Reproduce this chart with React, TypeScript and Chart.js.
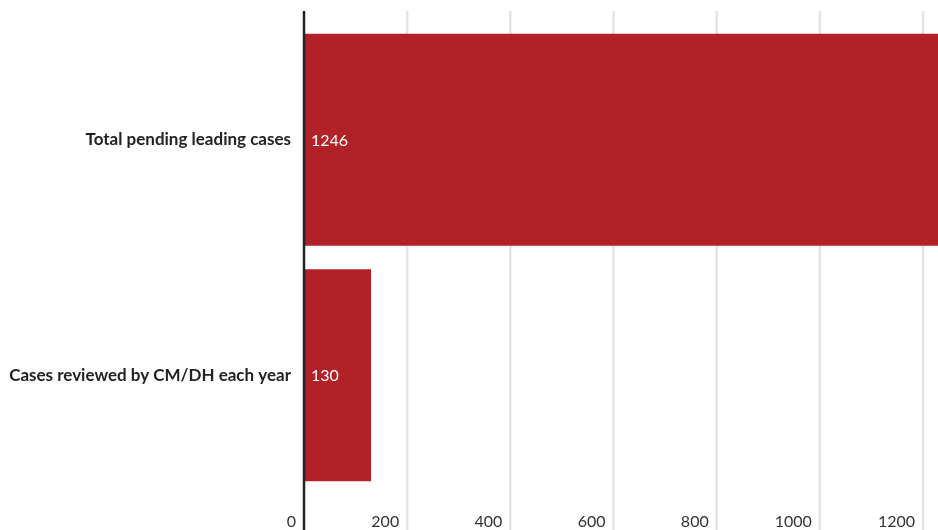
import React, { useEffect, useRef } from "react";
import { Chart, registerables } from "chart.js";

Chart.register(...registerables);

const categories = ["Total pending leading cases", "Cases reviewed by CM/DH each year"];
const values = [1246, 130];
const tickValues = [0, 200, 400, 600, 800, 1000, 1200];
const barColor = "#b22028";

const FONT = "Lato, 'Open Sans', sans-serif";

export default function App() {
  const ref = useRef<HTMLCanvasElement | null>(null);

  useEffect(() => {
    document.body.style.margin = "0";
    const canvas = ref.current;
    if (!canvas) return;

    const overlay = {
      id: "overlay",
      beforeDatasetsDraw(chart: any) {
        const ctx = chart.ctx;
        const xs = chart.scales.x;
        ctx.save();
        ctx.strokeStyle = "#e4e4e4";
        ctx.lineWidth = 2.5;
        tickValues.forEach((v) => {
          if (v === 0) return;
          const px = xs.getPixelForValue(v);
          ctx.beginPath();
          ctx.moveTo(px, 11);
          ctx.lineTo(px, chart.height);
          ctx.stroke();
        });
        ctx.restore();
      },
      afterDatasetsDraw(chart: any) {
        const ctx = chart.ctx;
        const xs = chart.scales.x;
        const meta = chart.getDatasetMeta(0);
        ctx.save();
        ctx.fillStyle = "#ffffff";
        ctx.font = `16px ${FONT}`;
        ctx.textAlign = "left";
        ctx.textBaseline = "middle";
        meta.data.forEach((el: any, i: number) => {
          ctx.fillText(String(values[i]), xs.getPixelForValue(0) + 7, el.y + 1);
        });
        const x0 = xs.getPixelForValue(0);
        ctx.strokeStyle = "#222222";
        ctx.lineWidth = 2.5;
        ctx.beginPath();
        ctx.moveTo(x0, 11);
        ctx.lineTo(x0, chart.height);
        ctx.stroke();
        ctx.restore();
      },
    };

    const chart = new Chart(canvas, {
      type: "bar",
      data: {
        labels: categories,
        datasets: [
          {
            data: values,
            backgroundColor: barColor,
            borderWidth: 0,
            barPercentage: 0.9,
            categoryPercentage: 1,
          },
        ],
      },
      options: {
        indexAxis: "y",
        responsive: false,
        animation: false,
        layout: { padding: { top: 22, right: 0, left: 0, bottom: 0 } },
        plugins: {
          legend: { display: false },
          tooltip: { enabled: false },
        },
        scales: {
          x: {
            type: "linear",
            min: 0,
            max: 1229,
            grid: { display: false, drawTicks: false },
            border: { display: false },
            afterBuildTicks(scale: any) {
              scale.ticks = tickValues.map((v) => ({ value: v }));
            },
            afterFit(scale: any) {
              scale.height = 37;
              scale.paddingLeft = 0;
              scale.paddingRight = 0;
            },
            ticks: {
              align: "end",
              labelOffset: -8,
              padding: 19,
              color: "#333333",
              font: { family: FONT, size: 16 },
              maxRotation: 0,
              autoSkip: false,
              callback: (v: any) => String(v),
            },
          },
          y: {
            grid: { display: false, drawTicks: false },
            border: { display: false },
            afterFit(scale: any) {
              scale.width = 304;
              scale.paddingTop = 0;
              scale.paddingBottom = 0;
            },
            ticks: {
              padding: 13,
              color: "#222222",
              font: { family: FONT, size: 17, weight: "bold" },
            },
          },
        },
      },
      plugins: [overlay],
    });

    return () => chart.destroy();
  }, []);

  return <canvas ref={ref} width={938} height={530} style={{ display: "block" }} />;
}
